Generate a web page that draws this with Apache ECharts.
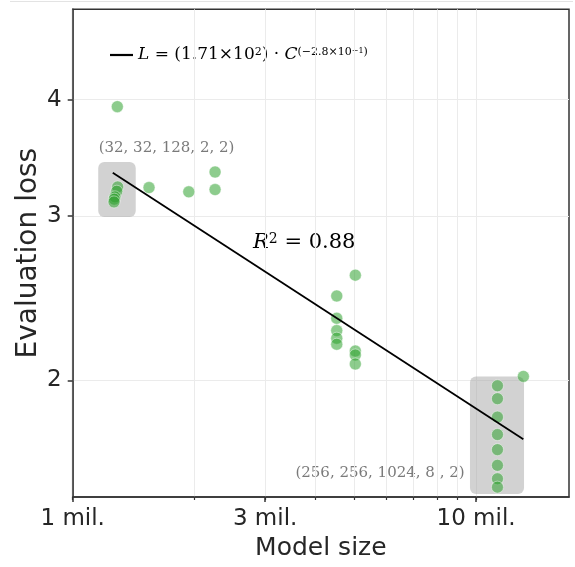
<!DOCTYPE html>
<html><head><meta charset="utf-8">
<script src="https://cdn.jsdelivr.net/npm/echarts@6/dist/echarts.min.js"></script>
<style>html,body{margin:0;padding:0;background:#fff}#c{width:575px;height:567px}</style>
</head><body><div id="c"></div>
<script>
// Model size in millions of parameters
const modelSizeMil = [1.293, 1.286, 1.273, 1.268, 1.266, 1.290, 1.546, 1.940, 2.254, 2.254,
  4.515, 4.515, 4.515, 4.515, 4.515, 5.020, 5.020, 5.020, 5.020,
  11.30, 11.30, 11.30, 11.30, 11.30, 11.30, 11.30, 11.30, 13.10];
const evalLoss = [3.225, 3.191, 3.147, 3.129, 3.108, 3.932, 3.220, 3.186, 3.346, 3.204,
  2.464, 2.332, 2.262, 2.220, 2.187, 2.594, 2.151, 2.130, 2.083,
  1.974, 1.912, 1.827, 1.750, 1.686, 1.622, 1.569, 1.537, 2.020];
// fitted power law end points
const fitSizeMil = [1.257, 13.10];
const fitLoss = [3.34, 1.73];
// highlight boxes [xMin, xMax, yMin, yMax]
const boxXMin = [1.157, 9.66];
const boxXMax = [1.433, 13.15];
const boxYMin = [2.995, 1.511];
const boxYMax = [3.43, 2.02];
// axis ticks
const xMinorTicks = [1, 2, 3, 4, 5, 6, 7, 8, 9, 10];
const xMajorTicks = [1, 3, 10];
const xTickLabels = ['1 mil.', '3 mil.', '10 mil.'];
const yTicks = [2, 3, 4];

const points = modelSizeMil.map((x, i) => [x, evalLoss[i]]);
const fitData = fitSizeMil.map((x, i) => [x, fitLoss[i]]);
const boxData = boxXMin.map((x, i) => [x, boxXMax[i], boxYMin[i], boxYMax[i]]);

const chart = echarts.init(document.getElementById('c'));
const sans = 'DejaVu Sans';
const serif = 'DejaVu Serif';
const axisColor = '#333';
chart.setOption({
  animation: false,
  backgroundColor: '#fff',
  grid: { left: 72.7, top: 9.3, right: 6, bottom: 70, show: true, borderColor: axisColor, borderWidth: 1.5, outerBoundsMode: 'none', containLabel: false },
  xAxis: [
    { type: 'log', logBase: 10, min: 1, max: 17, position: 'bottom',
      axisLine: { show: true, lineStyle: { color: axisColor, width: 1.5 } },
      axisTick: { show: true, length: 3, customValues: xMinorTicks, lineStyle: { color: axisColor, width: 1.2 } },
      axisLabel: { show: false },
      minorTick: { show: false },
      splitLine: { show: true, lineStyle: { color: '#ebebeb', width: 1 } } },
    { type: 'log', logBase: 10, min: 1, max: 17, position: 'bottom',
      axisLine: { show: false },
      axisTick: { show: true, length: 5, customValues: xMajorTicks, lineStyle: { color: axisColor, width: 1.5 } },
      axisLabel: { show: true, customValues: xMajorTicks, margin: 11, fontFamily: sans, fontSize: 23, color: '#262626',
        formatter: v => { const i = xMajorTicks.findIndex(t => Math.abs(t - v) < 1e-6); return i >= 0 ? xTickLabels[i] : ''; } },
      splitLine: { show: false },
      name: 'Model size', nameLocation: 'middle', nameGap: 39, nameMoveOverlap: false,
      nameTextStyle: { fontFamily: sans, fontSize: 25, color: '#262626' } }
  ],
  yAxis: [
    { type: 'log', logBase: 10, min: 1.5, max: 5,
      axisLine: { show: true, lineStyle: { color: axisColor, width: 1.5 } },
      axisTick: { show: true, length: 5, customValues: yTicks, lineStyle: { color: axisColor, width: 1.5 } },
      axisLabel: { show: true, customValues: yTicks, margin: 11, fontFamily: sans, fontSize: 23, color: '#262626' },
      minorTick: { show: false },
      splitLine: { show: true, lineStyle: { color: '#ebebeb', width: 1 } },
      name: 'Evaluation loss', nameLocation: 'middle', nameGap: 30, nameMoveOverlap: false,
      nameTextStyle: { fontFamily: sans, fontSize: 28, color: '#262626' } }
  ],
  series: [
    { type: 'custom', xAxisIndex: 0, yAxisIndex: 0, z: 1, data: boxData,
      renderItem: (params, api) => {
        const p0 = api.coord([api.value(0), api.value(3)]);
        const p1 = api.coord([api.value(1), api.value(2)]);
        return { type: 'rect', shape: { x: p0[0], y: p0[1], width: p1[0] - p0[0], height: p1[1] - p0[1], r: 6 },
          style: { fill: 'rgba(165,165,165,0.5)' } };
      } },
    { type: 'scatter', xAxisIndex: 0, yAxisIndex: 0, z: 2, data: points, symbolSize: 12,
      itemStyle: { color: 'rgba(44,160,44,0.68)', borderColor: 'rgba(255,255,255,0.8)', borderWidth: 0.7 } },
    { type: 'line', xAxisIndex: 0, yAxisIndex: 0, z: 3, data: fitData, symbol: 'none',
      lineStyle: { color: '#000', width: 1.8 } }
  ],
  graphic: [
    { type: 'line', shape: { x1: 10, y1: 1.5, x2: 573, y2: 1.5 }, style: { stroke: '#e3e3e3', lineWidth: 1 } },
    { type: 'line', shape: { x1: 110, y1: 55, x2: 133, y2: 55 }, style: { stroke: '#000', lineWidth: 2.2 } },
    { type: 'text', x: 138, y: 55, style: {
        text: '{L|L}{n| = (1.71×10}{s|2}{n|) · }{L|C}{e|(−2.8×10}{ee|−1}{e|)}',
        verticalAlign: 'middle', fill: '#000',
        rich: {
          L: { fontFamily: serif, fontStyle: 'italic', fontSize: 17 },
          n: { fontFamily: serif, fontSize: 17 },
          s: { fontFamily: serif, fontSize: 11, lineHeight: 9, verticalAlign: 'top' },
          e: { fontFamily: serif, fontSize: 11, lineHeight: 7, verticalAlign: 'top' },
          ee: { fontFamily: serif, fontSize: 8, lineHeight: 1, verticalAlign: 'top' }
        } } },
    { type: 'text', x: 253, y: 243, style: {
        text: '{R|R}{s|2}{n| = 0.88}', verticalAlign: 'middle', fill: '#000',
        rich: {
          R: { fontFamily: serif, fontStyle: 'italic', fontSize: 21 },
          n: { fontFamily: serif, fontSize: 21 },
          s: { fontFamily: serif, fontSize: 14, lineHeight: 10, verticalAlign: 'top' }
        } } },
    { type: 'text', x: 166.5, y: 148.5, style: { text: '(32, 32, 128, 2, 2)', fontFamily: serif, fontSize: 15, fill: '#7a7a7a', align: 'center', verticalAlign: 'middle' } },
    { type: 'text', x: 380, y: 473.5, style: { text: '(256, 256, 1024, 8 , 2)', fontFamily: serif, fontSize: 15, fill: '#7a7a7a', align: 'center', verticalAlign: 'middle' } }
  ]
});
</script></body></html>
